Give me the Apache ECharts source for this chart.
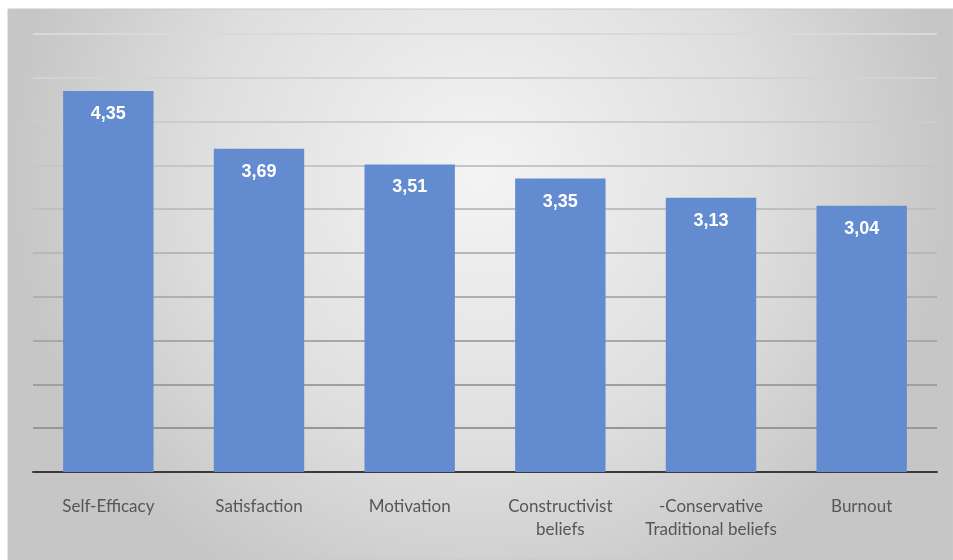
<!DOCTYPE html>
<html>
<head>
<meta charset="utf-8">
<style>
  html, body { margin: 0; padding: 0; background: #fff; }
  #chart { width: 953px; height: 560px; }
</style>
<script src="https://cdn.jsdelivr.net/npm/echarts@6/dist/echarts.min.js"></script>
</head>
<body>
<div id="chart"></div>
<script>
var categories = ['Self-Efficacy', 'Satisfaction', 'Motivation', 'Constructivist\nbeliefs', '-Conservative\nTraditional beliefs', 'Burnout'];
var means = [4.35, 3.69, 3.51, 3.35, 3.13, 3.04];

var chart = echarts.init(document.getElementById('chart'));
chart.setOption({
  animation: false,
  graphic: [{
    type: 'rect',
    z: -10,
    shape: { x: 8, y: 9, width: 945, height: 551 },
    style: {
      fill: new echarts.graphic.RadialGradient(0.5, 0.3, 0.85, [
        { offset: 0, color: '#f4f4f4' },
        { offset: 0.6, color: '#dedede' },
        { offset: 1, color: '#c6c6c6' }
      ]),
      stroke: '#c8c8c8',
      lineWidth: 1
    }
  }],
  grid: { left: 33, right: 16, top: 34, bottom: 88 },
  xAxis: {
    type: 'category',
    data: categories,
    axisTick: { show: false },
    axisLine: { lineStyle: { color: '#3a3a3a', width: 2 } },
    axisLabel: {
      color: '#565656',
      fontFamily: 'Lato',
      fontSize: 17,
      lineHeight: 23,
      margin: 23,
      interval: 0
    }
  },
  yAxis: {
    type: 'value',
    min: 0,
    max: 5,
    interval: 0.5,
    axisLabel: { show: false },
    axisLine: { show: false },
    axisTick: { show: false },
    splitLine: {
      lineStyle: {
        width: 2,
        color: {
          type: 'linear', x: 0, y: 30, x2: 0, y2: 440, global: true,
          colorStops: [
            { offset: 0, color: '#dadada' },
            { offset: 0.5, color: '#bbbbbb' },
            { offset: 1, color: '#959595' }
          ]
        }
      }
    }
  },
  series: [{
    type: 'bar',
    data: means,
    barCategoryGap: '40%',
    itemStyle: { color: '#638bcf' },
    label: {
      show: true,
      position: 'insideTop',
      distance: 14,
      color: '#fff',
      fontFamily: 'Liberation Sans',
      fontWeight: 'bold',
      fontSize: 18,
      formatter: function (p) { return p.value.toFixed(2).replace('.', ','); }
    }
  }]
});
</script>
</body>
</html>
